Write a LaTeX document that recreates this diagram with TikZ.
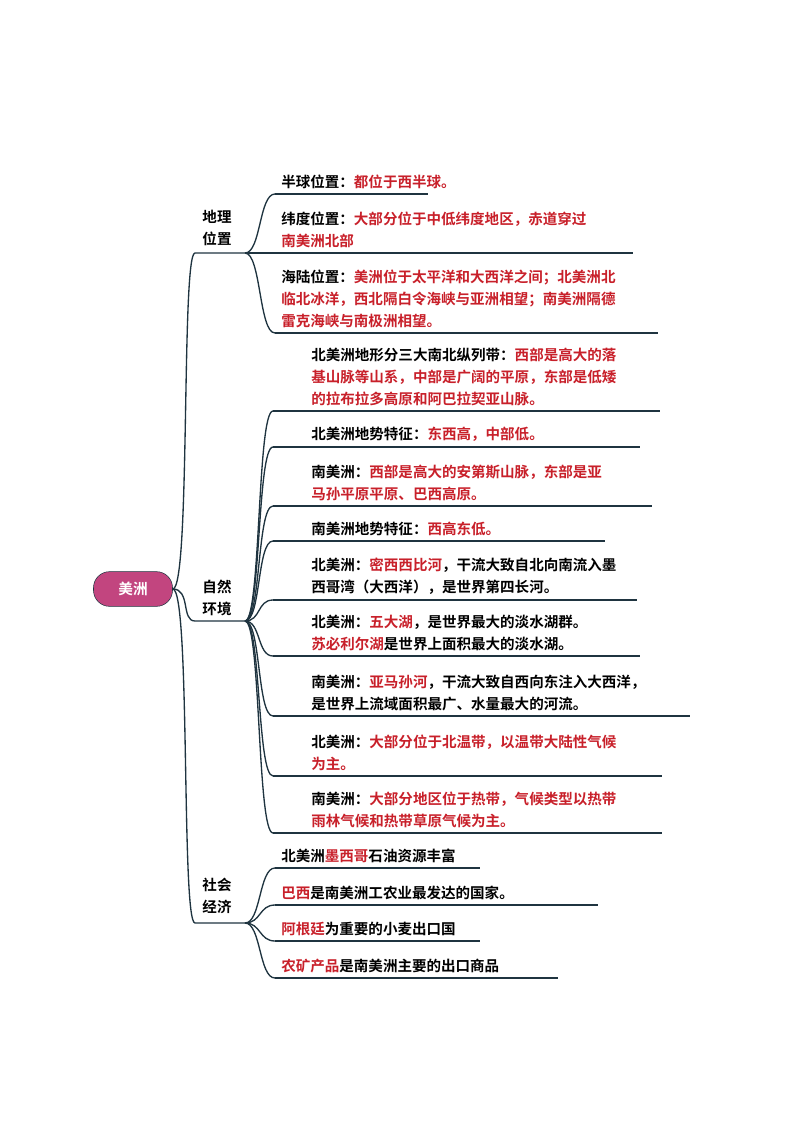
\documentclass[tikz,border=0pt]{standalone}
\usepackage{fontspec}
\setmainfont{Noto Sans CJK SC}[BoldFont={* Bold}]
\usetikzlibrary{positioning}
\definecolor{rootColor}{HTML}{C2457F}
\definecolor{hlColor}{HTML}{C8202A}
\definecolor{lnColor}{HTML}{1F3440}
\newcommand{\hl}[1]{\textcolor{hlColor}{#1}}
\tikzset{
	branch/.style={draw=lnColor, line width=1pt},
	leaf/.style={anchor=south west, align=left, inner sep=0pt, font=\fontsize{10.9}{16.4}\selectfont\bfseries},
	cat/.style={align=left, inner sep=0pt, font=\fontsize{10.9}{16.4}\selectfont\bfseries}
}
% leaf: name, start x, underline y, length, text
\newcommand{\leaf}[6]{%
	\coordinate (#1) at (#2,#3);
	\coordinate (#1e) at (#2+#4,#3);
	\node[leaf] (#1t) at ($(#1)+(#5,-5)$) {#6};
	\draw[branch] (#1) -- (#1e);
}
\usetikzlibrary{calc}
\begin{document}
\begin{tikzpicture}[x=0.75pt,y=-0.75pt]
	\useasboundingbox (0,0) rectangle (794,1123);
	% root
	\node[fill=rootColor, draw=lnColor, rounded corners=12pt, minimum width=59.25pt, minimum height=26pt,
		text=white, font=\fontsize{11}{13}\selectfont\bfseries] (root) at (133,589) {美洲};
	% categories
	\node[cat] (geo) at (217,228) {地理\\位置};
	\node[cat] (nat) at (217,598) {自然\\环境};
	\node[cat] (soc) at (217,896) {社会\\经济};
	\coordinate (geoA) at (195,253); \coordinate (geoB) at (245,253);
	\coordinate (natA) at (195,621); \coordinate (natB) at (245,621);
	\coordinate (socA) at (195,923); \coordinate (socB) at (245,923);
	\foreach \c in {geo,nat,soc}{
		\draw[branch] (root.east) .. controls +(18,0) and +(-14,0) .. (\c A) -- (\c B);
	}
	% geography
	\leaf{g1}{275}{194}{153}{6}{半球位置：\hl{都位于西半球。}}
	\leaf{g2}{275}{253}{358}{6}{纬度位置：\hl{大部分位于中低纬度地区，赤道穿过}\\\hl{南美洲北部}}
	\leaf{g3}{275}{333}{383}{6}{海陆位置：\hl{美洲位于太平洋和大西洋之间；北美洲北}\\\hl{临北冰洋，西北隔白令海峡与亚洲相望；南美洲隔德}\\\hl{雷克海峡与南极洲相望。}}
	\foreach \n in {g1,g2,g3}{
		\draw[branch] (geoB) .. controls +(16,0) and +(-16,0) .. (\n);
	}
	% nature
	\leaf{n1}{273}{411}{387}{38}{北美洲地形分三大南北纵列带：\hl{西部是高大的落}\\\hl{基山脉等山系，中部是广阔的平原，东部是低矮}\\\hl{的拉布拉多高原和阿巴拉契亚山脉。}}
	\leaf{n2}{273}{447}{367}{38}{北美洲地势特征：\hl{东西高，中部低。}}
	\leaf{n3}{273}{506}{379}{38}{南美洲：\hl{西部是高大的安第斯山脉，东部是亚}\\\hl{马孙平原平原、巴西高原。}}
	\leaf{n4}{273}{541}{332}{38}{南美洲地势特征：\hl{西高东低。}}
	\leaf{n5}{273}{600}{364}{38}{北美洲：\hl{密西西比河}，干流大致自北向南流入墨\\西哥湾（大西洋），是世界第四长河。}
	\leaf{n6}{273}{656}{367}{38}{北美洲：\hl{五大湖}，是世界最大的淡水湖群。\\\hl{苏必利尔湖}是世界上面积最大的淡水湖。}
	\leaf{n7}{273}{716}{417}{38}{南美洲：\hl{亚马孙河}，干流大致自西向东注入大西洋，\\是世界上流域面积最广、水量最大的河流。}
	\leaf{n8}{273}{776}{389}{38}{北美洲：\hl{大部分位于北温带，以温带大陆性气候}\\\hl{为主。}}
	\leaf{n9}{273}{833}{389}{38}{南美洲：\hl{大部分地区位于热带，气候类型以热带}\\\hl{雨林气候和热带草原气候为主。}}
	\foreach \n in {n1,n2,n3,n4,n5,n6,n7,n8,n9}{
		\draw[branch] (natB) .. controls +(16,0) and +(-16,0) .. (\n);
	}
	% society
	\leaf{s1}{275}{868}{205}{6}{北美洲\hl{墨西哥}石油资源丰富}
	\leaf{s2}{275}{905}{323}{6}{\hl{巴西}是南美洲工农业最发达的国家。}
	\leaf{s3}{275}{941}{205}{6}{\hl{阿根廷}为重要的小麦出口国}
	\leaf{s4}{275}{978}{283}{6}{\hl{农矿产品}是南美洲主要的出口商品}
	\foreach \n in {s1,s2,s3,s4}{
		\draw[branch] (socB) .. controls +(16,0) and +(-16,0) .. (\n);
	}
\end{tikzpicture}
\end{document}
